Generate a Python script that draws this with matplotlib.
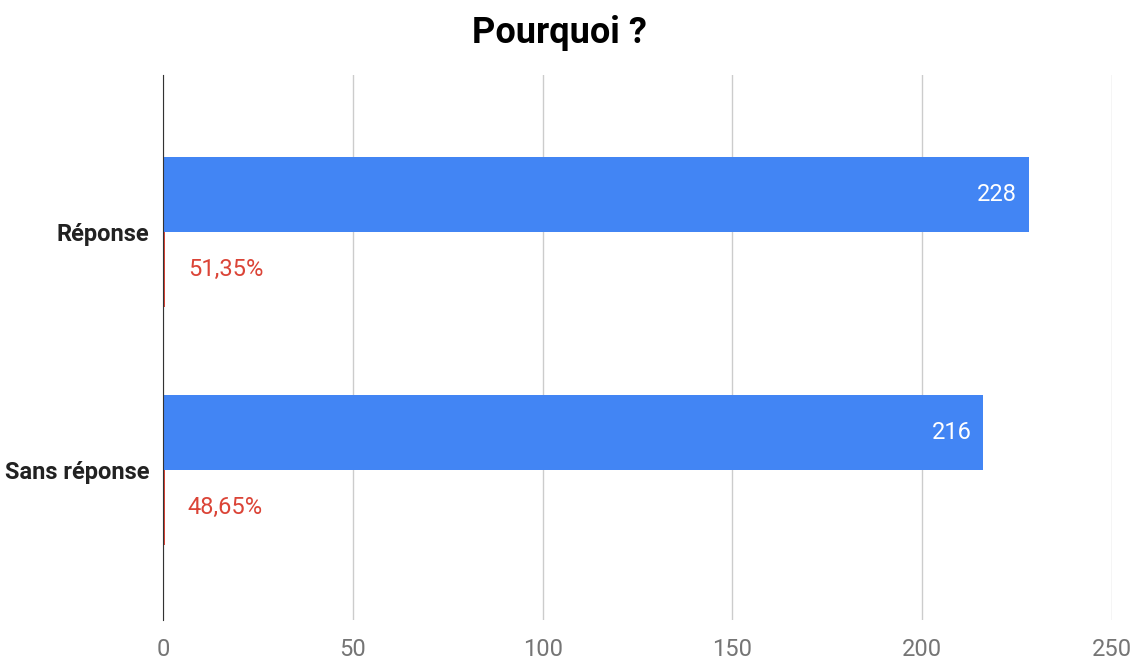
import numpy as np
import matplotlib.pyplot as plt

plt.rcParams['font.family'] = ['Roboto', 'DejaVu Sans']

categories = ['Réponse', 'Sans réponse']
counts = [228, 216]
percents = [0.5135, 0.4865]
percent_labels = ['51,35%', '48,65%']

blue = '#4285F4'
red = '#DB4437'

fig = plt.figure(figsize=(11.4, 6.64), dpi=100)
ax = fig.add_axes([0.143, 0.066, 0.8325, 0.821])

y = np.arange(len(categories))
h = 0.315
bars = ax.barh(y - h / 2, counts, height=h, color=blue, zorder=3)
rbars = ax.barh(y + h / 2, percents, height=h, color=red, zorder=3)

for rect, v in zip(bars, counts):
    ax.text(rect.get_width() - 3, rect.get_y() + rect.get_height() / 2, str(v),
            color='white', ha='right', va='center', fontsize=17, zorder=4)
for rect, lab in zip(rbars, percent_labels):
    ax.text(rect.get_width() + 6, rect.get_y() + rect.get_height() / 2, lab,
            color=red, ha='left', va='center', fontsize=17, zorder=4)

ax.set_xlim(0, 250)
ax.set_ylim(1.63, -0.66)
ax.set_xticks(range(0, 251, 50))
ax.set_yticks(y)
ax.set_yticklabels(categories, fontweight='bold', fontsize=17, color='#222222')
ax.tick_params(axis='x', colors='#757575', labelsize=17, length=0, pad=13)
ax.tick_params(axis='y', length=0, pad=10)
ax.grid(axis='x', color='#cccccc', linewidth=1, zorder=0)
for s in ['top', 'right', 'bottom']:
    ax.spines[s].set_visible(False)
ax.spines['left'].set_color('#333333')
ax.spines['left'].set_zorder(5)

fig.text(0.491, 1 - 43 / 664, 'Pourquoi ?', fontsize=26, fontweight='bold',
         ha='center', va='baseline')

fig.savefig('out.png')
